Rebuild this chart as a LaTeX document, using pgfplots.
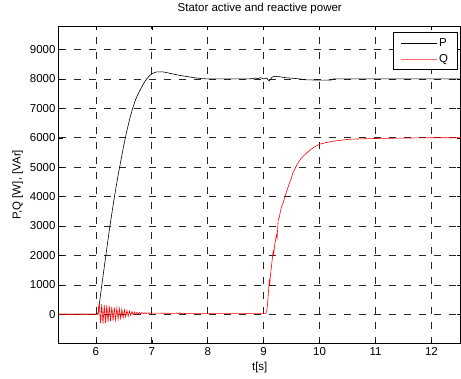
\documentclass[border=0pt]{standalone}
\usepackage{fontspec}
\setmainfont{Liberation Sans}
\usepackage{pgfplots}
\pgfplotsset{compat=1.18}
\newcommand{\fs}{\fontsize{11.5bp}{13bp}\selectfont}
\begin{document}
\begin{tikzpicture}
\begin{axis}[
 at={(0,0)}, anchor=south west,
 scale only axis, width=402bp, height=318bp,
 xmin=5.34, xmax=12.52, ymin=-1000, ymax=9800,
 xtick={6,7,8,9,10,11,12}, ytick={0,1000,2000,3000,4000,5000,6000,7000,8000,9000},
 tick align=inside, xtick pos=both, ytick pos=both,
 major tick length=4bp,
 grid=major,
 major grid style={black!85, line width=0.6bp, dash pattern=on 7bp off 8bp},
 axis line style={black, line width=0.9bp},
 tick style={black, line width=0.5bp},
 ticklabel style={font=\fs},
 /pgf/number format/assume math mode=true,
 /pgf/number format/set thousands separator={},
 title={Stator active and reactive power},
 title style={font=\fs, at={(0.5,1)}, anchor=south, inner sep=0pt, yshift=6bp},
 xlabel={t[s]}, ylabel={P,Q [W], [VAr]},
 label style={font=\fs},
 legend style={at={(0.9925,0.981)}, anchor=north east, draw=black, line width=0.9bp, font=\fs, fill=white,
   inner xsep=7bp, inner ysep=4bp, row sep=2.5bp,
   nodes={inner sep=2bp}},
 legend cell align=left,
]
\addplot[black, line width=0.6bp, legend image code/.code={\draw[black, line width=0.6bp] (0bp,0bp) -- (36bp,0bp);}] coordinates {
(5.34,0) (6.00,0) (6.04,30) (6.10,900) (6.15,1600) (6.20,2300) (6.25,2980) (6.30,3600)
(6.35,4200) (6.40,4750) (6.45,5250) (6.50,5750) (6.55,6200) (6.60,6600) (6.65,6950)
(6.70,7250) (6.75,7470) (6.80,7650) (6.85,7830) (6.90,7980) (6.95,8090) (7.00,8170)
(7.05,8220) (7.10,8240) (7.20,8240) (7.30,8200) (7.40,8160) (7.50,8120) (7.60,8090)
(7.70,8060) (7.80,8030) (7.90,8010) (8.00,8000) (8.50,8000) (8.80,8005) (8.85,8030)
(8.90,8010) (8.95,8040) (9.00,8000) (9.05,8030) (9.10,7930) (9.15,8060) (9.20,8090)
(9.30,8070) (9.40,8040) (9.60,8010) (9.75,7970) (10.0,7960) (10.2,7960) (10.25,8000) (12.52,8000)
};
\addlegendentry{P}
\addplot[red, line width=0.6bp, legend image code/.code={\draw[red!60, line width=1bp] (0bp,0bp) -- (36bp,0bp);}] coordinates {
(5.34,0) (6.00,0) (6.04,0)
(6.060,380) (6.083,-300) (6.105,340) (6.128,-320) (6.150,310) (6.173,-290) (6.195,300)
(6.218,-270) (6.240,280) (6.263,-240) (6.285,250) (6.308,-220) (6.330,230) (6.353,-190)
(6.375,210) (6.398,-170) (6.420,190) (6.443,-140) (6.465,170) (6.488,-120) (6.510,150)
(6.533,-90) (6.555,130) (6.578,-70) (6.600,110) (6.623,-40) (6.645,95) (6.668,-20)
(6.690,80) (6.713,-5) (6.735,70) (6.758,10) (6.780,60) (6.803,15) (6.825,55) (6.848,20)
(6.870,50) (6.893,25) (6.915,45) (6.938,25) (6.960,50) (6.983,30) (7.0,40)
(7.40,30) (7.45,45) (7.47,20) (7.50,50) (7.52,20) (7.55,40) (7.58,25) (7.62,30)
(9.00,30) (9.04,30) (9.06,150) (9.08,600) (9.10,1150) (9.11,1050) (9.12,1300) (9.15,1800)
(9.17,2150) (9.18,2050) (9.20,2400) (9.23,2700) (9.24,2600) (9.26,3200) (9.28,3300)
(9.30,3500) (9.32,3660) (9.35,3800) (9.38,4000) (9.41,4170) (9.45,4400) (9.48,4550)
(9.52,4790) (9.56,4950) (9.60,5100) (9.67,5300) (9.75,5450) (9.82,5570) (9.90,5680)
(10.0,5780) (10.1,5830) (10.24,5880) (10.4,5920) (10.54,5950) (10.8,5965) (11.0,5975)
(11.5,5990) (12.0,6000) (12.52,6000)
};
\addlegendentry{Q}
\end{axis}
\path[use as bounding box] (-59bp,-35bp) rectangle (402bp,344bp);
\end{tikzpicture}
\end{document}
